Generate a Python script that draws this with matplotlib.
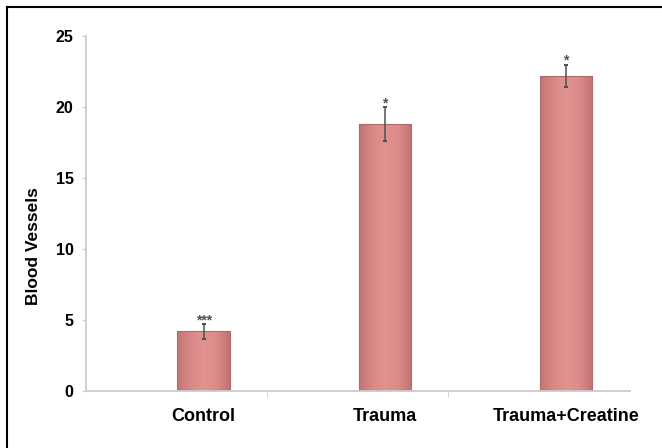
import numpy as np
import matplotlib.pyplot as plt
from matplotlib.colors import LinearSegmentedColormap

groups = ["Control", "Trauma", "Trauma+Creatine"]
vessels = [4.2, 18.8, 22.2]
errors = [0.5, 1.2, 0.8]
marks = ["***", "*", "*"]
yticks = [0, 5, 10, 15, 20, 25]

plt.rcParams["font.family"] = ["Liberation Sans", "DejaVu Sans"]
plt.rcParams["font.weight"] = "bold"

fig = plt.figure(figsize=(6.62, 4.48), dpi=100)
ax = fig.add_axes([0.130, 0.127, 0.822, 0.792])

x = np.arange(len(groups))
width = 0.29

# pink bars, a little darker toward the sides
shade = LinearSegmentedColormap.from_list(
    "shade", ["#c27474", "#d98887", "#e19391", "#dc8b8a", "#c07272"])
grad = np.linspace(0, 1, 64).reshape(1, -1)
bars = ax.bar(x, vessels, width, color="none", edgecolor="#b06a6a", linewidth=0.8, zorder=2)
for b in bars:
    im = ax.imshow(grad, cmap=shade, aspect="auto", zorder=1,
                   extent=[b.get_x(), b.get_x() + b.get_width(), 0, b.get_height()])
    im.set_clip_path(b)

ax.errorbar(x, vessels, yerr=errors, fmt="none", ecolor="#505050",
            elinewidth=1.1, capsize=1.5, capthick=1.5, zorder=3)
for xi, v, e, m in zip(x, vessels, errors, marks):
    ax.text(xi, v + e - 0.2, m, ha="center", va="bottom", fontsize=10, color="#505050")

ax.set_xlim(-0.65, 2.356)
ax.set_ylim(0, 25)
ax.set_yticks(yticks)
ax.set_xticks(x)
ax.set_xticklabels(groups, fontsize=13, fontweight="bold")
ax.set_xticks([0.35, 1.35], minor=True)
ax.tick_params(axis="x", which="major", length=0, pad=12)
ax.tick_params(axis="x", which="minor", length=4, color="#cccccc", direction="out")
ax.tick_params(axis="y", labelsize=11.5, length=3, color="#cccccc", pad=6)

for side in ["top", "right"]:
    ax.spines[side].set_visible(False)
for side in ["left", "bottom"]:
    ax.spines[side].set_color("#cccccc")
    ax.spines[side].set_linewidth(1.3)

ax.set_ylabel("Blood Vessels", fontsize=12.5, fontweight="bold")
ax.yaxis.set_label_coords(-0.082, 0.41)

# outer frame (left and top edges only)
fig.add_artist(plt.Line2D([0.0106, 0.0106], [0.0, 0.984], color="black", lw=1.5))
fig.add_artist(plt.Line2D([0.0106, 1.0], [0.984, 0.984], color="black", lw=1.5))

fig.savefig("out.png", dpi=100)
